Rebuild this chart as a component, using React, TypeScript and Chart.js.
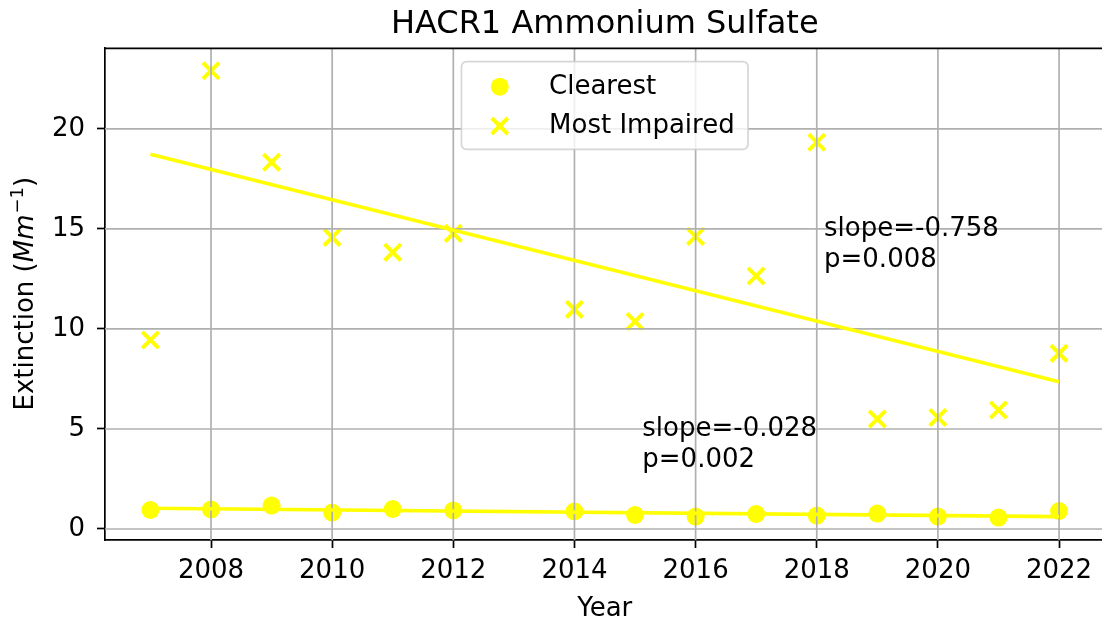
import React, { useEffect, useRef } from 'react';
import { Chart, registerables } from 'chart.js';

Chart.register(...registerables);

// ---- data ----
const years = [2007, 2008, 2009, 2010, 2011, 2012, 2014, 2015, 2016, 2017, 2018, 2019, 2020, 2021, 2022];
const clearest = [0.95, 0.98, 1.17, 0.82, 1.0, 0.93, 0.88, 0.7, 0.62, 0.75, 0.67, 0.77, 0.62, 0.57, 0.9];
const mostImpaired = [9.45, 22.91, 18.33, 14.58, 13.83, 14.78, 10.98, 10.37, 14.62, 12.65, 19.33, 5.5, 5.57, 5.95, 8.78];
const trendYears = [2007, 2022];
const clearestTrend = [1.04, 0.62];
const impairedTrend = [18.73, 7.36];
const xTicks = [2008, 2010, 2012, 2014, 2016, 2018, 2020, 2022];
const yTicks = [0, 5, 10, 15, 20];
const annotationLines = [
  ['slope=-0.758', 'p=0.008'],
  ['slope=-0.028', 'p=0.002'],
];
const annotationX = [2018.12, 2015.12];
const annotationY = [13.1, 3.1];
const seriesLabels = ['Clearest', 'Most Impaired'];
const chartTitle = 'HACR1 Ammonium Sulfate';
const xTitle = 'Year';

const FONT = '"DejaVu Sans", "Liberation Sans", sans-serif';
const YELLOW = '#ffff00';

function drawGrid(chart: any) {
  const { ctx, chartArea, scales } = chart;
  ctx.save();
  ctx.strokeStyle = '#b0b0b0';
  ctx.lineWidth = 1.7;
  for (const v of xTicks) {
    const x = scales.x.getPixelForValue(v);
    ctx.beginPath();
    ctx.moveTo(x, chartArea.top);
    ctx.lineTo(x, chartArea.bottom);
    ctx.stroke();
  }
  for (const v of yTicks) {
    const y = scales.y.getPixelForValue(v);
    ctx.beginPath();
    ctx.moveTo(chartArea.left, y);
    ctx.lineTo(chartArea.right, y);
    ctx.stroke();
  }
  ctx.restore();
}

function drawCross(ctx: CanvasRenderingContext2D, x: number, y: number, half: number) {
  ctx.beginPath();
  ctx.moveTo(x - half, y - half);
  ctx.lineTo(x + half, y + half);
  ctx.moveTo(x - half, y + half);
  ctx.lineTo(x + half, y - half);
  ctx.stroke();
}

const mplPlugin = {
  id: 'mplPlugin',
  beforeDatasetsDraw(chart: any) {
    chart.$gridDone = false;
  },
  beforeDatasetDraw(chart: any, args: any) {
    if (!chart.$gridDone && chart.data.datasets[args.index].showLine) {
      drawGrid(chart);
      chart.$gridDone = true;
    }
  },
  afterDatasetsDraw(chart: any) {
    const { ctx, chartArea, scales } = chart;
    if (!chart.$gridDone) drawGrid(chart);
    // top spine
    ctx.save();
    ctx.strokeStyle = '#000';
    ctx.lineWidth = 1.7;
    ctx.beginPath();
    ctx.moveTo(chartArea.left - 0.85, chartArea.top);
    ctx.lineTo(chartArea.right + 0.85, chartArea.top);
    ctx.stroke();
    // annotations
    ctx.fillStyle = '#000';
    ctx.font = `26px ${FONT}`;
    ctx.textAlign = 'left';
    ctx.textBaseline = 'alphabetic';
    annotationLines.forEach((lines, i) => {
      const x = scales.x.getPixelForValue(annotationX[i]);
      const yLast = scales.y.getPixelForValue(annotationY[i]);
      const n = lines.length;
      lines.forEach((t, j) => {
        ctx.fillText(t, x, yLast - (n - 1 - j) * 31);
      });
    });
    ctx.restore();
  },
  afterDraw(chart: any) {
    const { ctx, chartArea } = chart;
    const cx = (chartArea.left + chartArea.right) / 2;
    ctx.save();
    ctx.fillStyle = '#000';
    // title
    ctx.font = `32px ${FONT}`;
    ctx.textAlign = 'center';
    ctx.textBaseline = 'alphabetic';
    ctx.fillText(chartTitle, cx, 33);
    // x title
    ctx.font = `26px ${FONT}`;
    ctx.fillText(xTitle, cx, 616);
    // y title (rotated, mixed styles)
    const cy = (chartArea.top + chartArea.bottom) / 2;
    const parts = [
      { t: 'Extinction (', f: `26px ${FONT}`, dy: 0 },
      { t: 'Mm', f: `italic 26px ${FONT}`, dy: 0 },
      { t: '\u22121', f: `18px ${FONT}`, dy: -10 },
      { t: ')', f: `26px ${FONT}`, dy: 0 },
    ];
    let total = 0;
    const widths = parts.map((p) => {
      ctx.font = p.f;
      const w = ctx.measureText(p.t).width;
      total += w;
      return w;
    });
    ctx.translate(33, cy);
    ctx.rotate(-Math.PI / 2);
    ctx.textAlign = 'left';
    let px = -total / 2;
    parts.forEach((p, i) => {
      ctx.font = p.f;
      ctx.fillText(p.t, px, p.dy);
      px += widths[i] + (i === 1 ? 1 : 0);
    });
    ctx.restore();

    // legend
    ctx.save();
    const left = cx - 143.3;
    const top = chartArea.top + 13.4;
    const w = 286.6;
    const h = 87.6;
    const r = 5;
    ctx.beginPath();
    ctx.moveTo(left + r, top);
    ctx.lineTo(left + w - r, top);
    ctx.arcTo(left + w, top, left + w, top + r, r);
    ctx.lineTo(left + w, top + h - r);
    ctx.arcTo(left + w, top + h, left + w - r, top + h, r);
    ctx.lineTo(left + r, top + h);
    ctx.arcTo(left, top + h, left, top + h - r, r);
    ctx.lineTo(left, top + r);
    ctx.arcTo(left, top, left + r, top, r);
    ctx.closePath();
    ctx.fillStyle = 'rgba(255,255,255,0.8)';
    ctx.fill();
    ctx.strokeStyle = 'rgba(204,204,204,0.8)';
    ctx.lineWidth = 1.7;
    ctx.stroke();
    // markers
    const mx = left + 38.3;
    ctx.fillStyle = YELLOW;
    ctx.beginPath();
    ctx.arc(mx, top + 25, 9, 0, Math.PI * 2);
    ctx.fill();
    ctx.strokeStyle = YELLOW;
    ctx.lineWidth = 4;
    drawCross(ctx, mx, top + 64.3, 8);
    // texts
    ctx.fillStyle = '#000';
    ctx.font = `26px ${FONT}`;
    ctx.textAlign = 'left';
    ctx.textBaseline = 'alphabetic';
    ctx.fillText(seriesLabels[0], left + 87.6, top + 32.6);
    ctx.fillText(seriesLabels[1], left + 87.6, top + 71.6);
    ctx.restore();
  },
};

const CANVAS_W = 1120;

export default function App() {
  const ref = useRef<HTMLCanvasElement | null>(null);

  useEffect(() => {
    document.body.style.margin = '0';
    const canvas = ref.current;
    if (!canvas) return;
    const chart = new Chart(canvas, {
      type: 'scatter',
      data: {
        datasets: [
          {
            label: seriesLabels[0],
            data: years.map((x, i) => ({ x, y: clearest[i] })),
            pointStyle: 'circle',
            pointRadius: 9,
            pointBackgroundColor: YELLOW,
            pointBorderColor: YELLOW,
            pointBorderWidth: 0,
            showLine: false,
            order: 1,
          },
          {
            label: seriesLabels[1],
            data: years.map((x, i) => ({ x, y: mostImpaired[i] })),
            pointStyle: 'crossRot',
            pointRadius: 11.5,
            pointBorderColor: YELLOW,
            pointBackgroundColor: YELLOW,
            pointBorderWidth: 4,
            showLine: false,
            order: 1,
          },
          {
            label: 'Clearest trend',
            data: trendYears.map((x, i) => ({ x, y: clearestTrend[i] })),
            showLine: true,
            borderColor: YELLOW,
            borderWidth: 3.6,
            pointRadius: 0,
            order: 0,
          },
          {
            label: 'Most Impaired trend',
            data: trendYears.map((x, i) => ({ x, y: impairedTrend[i] })),
            showLine: true,
            borderColor: YELLOW,
            borderWidth: 3.6,
            pointRadius: 0,
            order: 0,
          },
        ],
      },
      options: {
        animation: false,
        responsive: false,
        events: [],
        layout: { padding: { top: 48.3, right: 6, left: 0, bottom: 0 } },
        plugins: {
          legend: { display: false },
          tooltip: { enabled: false },
          title: { display: false },
        },
        scales: {
          x: {
            type: 'linear',
            min: 2006.25,
            max: 2022.75,
            afterFit: (s: any) => {
              s.height = 83;
              s.paddingLeft = 0;
              s.paddingRight = 0;
            },
            afterBuildTicks: (s: any) => {
              s.ticks = xTicks.map((v) => ({ value: v }));
            },
            grid: {
              drawOnChartArea: false,
              drawTicks: true,
              tickLength: 8,
              tickWidth: 1.7,
              tickColor: '#000',
            },
            border: { display: true, color: '#000', width: 1.7 },
            ticks: {
              font: { family: FONT, size: 26 },
              color: '#000',
              padding: 8,
              maxRotation: 0,
              autoSkip: false,
              callback: (v: any) => String(v),
            },
          },
          y: {
            type: 'linear',
            min: -0.55,
            max: 24.03,
            afterFit: (s: any) => {
              s.width = 105;
              s.paddingTop = 0;
              s.paddingBottom = 0;
            },
            afterBuildTicks: (s: any) => {
              s.ticks = yTicks.map((v) => ({ value: v }));
            },
            grid: {
              drawOnChartArea: false,
              drawTicks: true,
              tickLength: 8,
              tickWidth: 1.7,
              tickColor: '#000',
            },
            border: { display: true, color: '#000', width: 1.7 },
            ticks: {
              font: { family: FONT, size: 26 },
              color: '#000',
              padding: 12,
              autoSkip: false,
              callback: (v: any) => String(v),
            },
          },
        },
      },
      plugins: [mplPlugin],
    } as any);
    return () => chart.destroy();
  }, []);

  return (
    <div style={{ width: 1102, height: 623, overflow: 'hidden', background: '#fff' }}>
      <canvas ref={ref} width={CANVAS_W} height={623} style={{ width: CANVAS_W, height: 623, display: 'block' }} />
    </div>
  );
}
